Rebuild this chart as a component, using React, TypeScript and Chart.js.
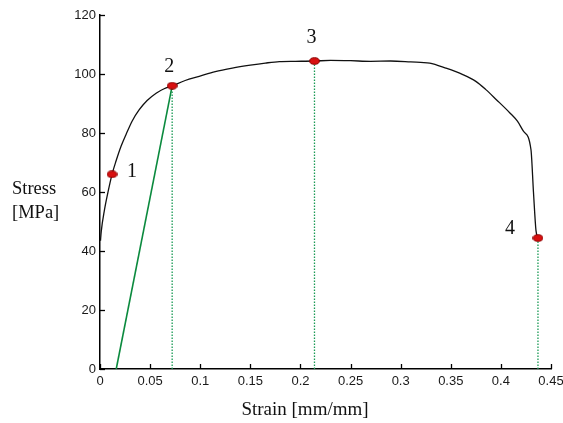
import React, { useEffect, useRef } from "react";
import { Chart, registerables } from "chart.js";

Chart.register(...registerables);

// Stress-strain curve (strain mm/mm, stress MPa)
const curveStrain = [
  0.0005, 0.0012, 0.0045, 0.0078, 0.012, 0.016, 0.021, 0.026, 0.032,
  0.039, 0.047, 0.056, 0.064, 0.072, 0.085, 0.099, 0.115, 0.132, 0.15,
  0.165, 0.179, 0.195, 0.214, 0.23, 0.25, 0.27, 0.29, 0.31, 0.329,
  0.345, 0.362, 0.375, 0.385, 0.3955, 0.409, 0.4165, 0.4225, 0.43,
  0.4325, 0.435, 0.437,
];
const curveStress = [
  43.5, 46.5, 54, 59.7, 66, 70.5, 75.5, 79.5, 84,
  87.8, 91, 93.5, 95, 96, 97.8, 99.2, 100.8, 102, 103,
  103.7, 104.2, 104.3, 104.4, 104.6, 104.5, 104.3, 104.4, 104.1, 103.7,
  102, 99.8, 97.5, 94.7, 91.3, 86.8, 84, 80.6, 74.4,
  60, 47, 44.4,
];

// Marked points
const markStrain = [0.012, 0.072, 0.214, 0.437];
const markStress = [66, 96, 104.4, 44.4];
const markLabels = ["1", "2", "3", "4"];

// Elastic offset line (start strain at zero stress, to point 2)
const offsetStrain = [0.0162, 0.072];
const offsetStress = [0, 96];

// Vertical dotted projections (indices into marked points)
const projectionIdx = [1, 2, 3];

// Axis ticks
const xTicks = [0, 0.05, 0.1, 0.15, 0.2, 0.25, 0.3, 0.35, 0.4, 0.45];
const yTicks = [0, 20, 40, 60, 80, 100, 120];

const labelOffsets = [
  [20, -3],
  [-3, -19],
  [-3, -23],
  [-28, -9],
];

function makeEllipse(): HTMLCanvasElement {
  const c = document.createElement("canvas");
  c.width = 11;
  c.height = 8;
  const g = c.getContext("2d")!;
  g.beginPath();
  g.ellipse(5.5, 4, 4.8, 3.3, 0, 0, Math.PI * 2);
  g.fillStyle = "#d81010";
  g.fill();
  g.lineWidth = 1;
  g.strokeStyle = "#8a0000";
  g.stroke();
  return c;
}

const overlayPlugin = {
  id: "overlay",
  afterDraw(chart: any) {
    const ctx = chart.ctx;
    const xs = chart.scales.x;
    const ys = chart.scales.y;
    const area = chart.chartArea;
    ctx.save();
    // inward ticks
    ctx.strokeStyle = "#000";
    ctx.lineWidth = 1.3;
    xTicks.forEach((t) => {
      const px = Math.round(xs.getPixelForValue(t)) + 0.5;
      ctx.beginPath();
      ctx.moveTo(px, area.bottom);
      ctx.lineTo(px, area.bottom - 5);
      ctx.stroke();
    });
    yTicks.forEach((t) => {
      const py = Math.round(ys.getPixelForValue(t)) + 0.5;
      ctx.beginPath();
      ctx.moveTo(area.left, py);
      ctx.lineTo(area.left + 5, py);
      ctx.stroke();
    });
    // point labels
    ctx.fillStyle = "#111";
    ctx.font = "20px 'Liberation Serif', 'Times New Roman', serif";
    ctx.textAlign = "center";
    ctx.textBaseline = "middle";
    markLabels.forEach((lab, i) => {
      const px = xs.getPixelForValue(markStrain[i]);
      const py = ys.getPixelForValue(markStress[i]);
      ctx.fillText(lab, px + labelOffsets[i][0], py + labelOffsets[i][1]);
    });
    // axis titles
    ctx.font = "18.5px 'Liberation Serif', 'Times New Roman', serif";
    ctx.textAlign = "left";
    ctx.fillText("Stress", 12, 189);
    ctx.fillText("[MPa]", 12, 213);
    ctx.textAlign = "center";
    ctx.font = "19px 'Liberation Serif', 'Times New Roman', serif";
    ctx.fillText("Strain [mm/mm]", 305, 410);
    ctx.restore();
  },
};

export default function App() {
  const ref = useRef<HTMLCanvasElement | null>(null);

  useEffect(() => {
    if (!ref.current) return;
    const ellipse = makeEllipse();
    const curve = curveStrain.map((x, i) => ({ x, y: curveStress[i] }));
    const offsetLine = offsetStrain.map((x, i) => ({ x, y: offsetStress[i] }));
    const marks = markStrain.map((x, i) => ({ x, y: markStress[i] }));
    const projections = projectionIdx.map((i) => ({
      type: "line" as const,
      data: [
        { x: markStrain[i], y: 0 },
        { x: markStrain[i], y: markStress[i] },
      ],
      borderColor: "#1a9a55",
      borderWidth: 1.3,
      borderDash: [1.5, 1.5],
      pointRadius: 0,
      order: 3,
    }));

    const chart = new Chart(ref.current, {
      type: "line",
      data: {
        datasets: [
          {
            data: curve,
            borderColor: "#111",
            borderWidth: 1.3,
            pointRadius: 0,
            cubicInterpolationMode: "monotone",
            order: 2,
          },
          {
            data: offsetLine,
            borderColor: "#0b8a3e",
            borderWidth: 1.6,
            pointRadius: 0,
            order: 3,
          },
          ...projections,
          {
            data: marks,
            showLine: false,
            pointStyle: ellipse as any,
            pointRadius: 5,
            order: 0,
          },
        ] as any,
      },
      options: {
        animation: false,
        responsive: false,
        layout: { padding: { top: 15, right: 12, left: 0, bottom: 0 } },
        plugins: {
          legend: { display: false },
          tooltip: { enabled: false },
        },
        scales: {
          x: {
            type: "linear",
            min: 0,
            max: 0.45,
            afterFit: (s: any) => {
              s.height = 54;
              s.paddingLeft = 0;
              s.paddingRight = 0;
            },
            afterBuildTicks: (s: any) => {
              s.ticks = xTicks.map((v) => ({ value: v }));
            },
            ticks: {
              padding: 5,
              color: "#1a1a1a",
              font: { family: "'Liberation Sans', Arial, sans-serif", size: 13 },
              callback: (v: any) => String(+Number(v).toFixed(2)),
              maxRotation: 0,
              autoSkip: false,
            },
            grid: { display: true, drawOnChartArea: false, drawTicks: false },
            border: { display: true, color: "#000", width: 1.5 },
          },
          y: {
            type: "linear",
            min: 0,
            max: 120,
            afterFit: (s: any) => {
              s.width = 100;
              s.paddingTop = 0;
              s.paddingBottom = 0;
            },
            afterBuildTicks: (s: any) => {
              s.ticks = yTicks.map((v) => ({ value: v }));
            },
            ticks: {
              padding: 4,
              color: "#1a1a1a",
              font: { family: "'Liberation Sans', Arial, sans-serif", size: 13 },
              autoSkip: false,
            },
            grid: { display: true, drawOnChartArea: false, drawTicks: false },
            border: { display: true, color: "#000", width: 1.5 },
          },
        },
      },
      plugins: [overlayPlugin],
    });
    return () => chart.destroy();
  }, []);

  return (
    <div style={{ position: "absolute", left: 0, top: 0, width: 563, height: 423, background: "#fff" }}>
      <canvas ref={ref} width={563} height={423} style={{ display: "block" }} />
    </div>
  );
}
